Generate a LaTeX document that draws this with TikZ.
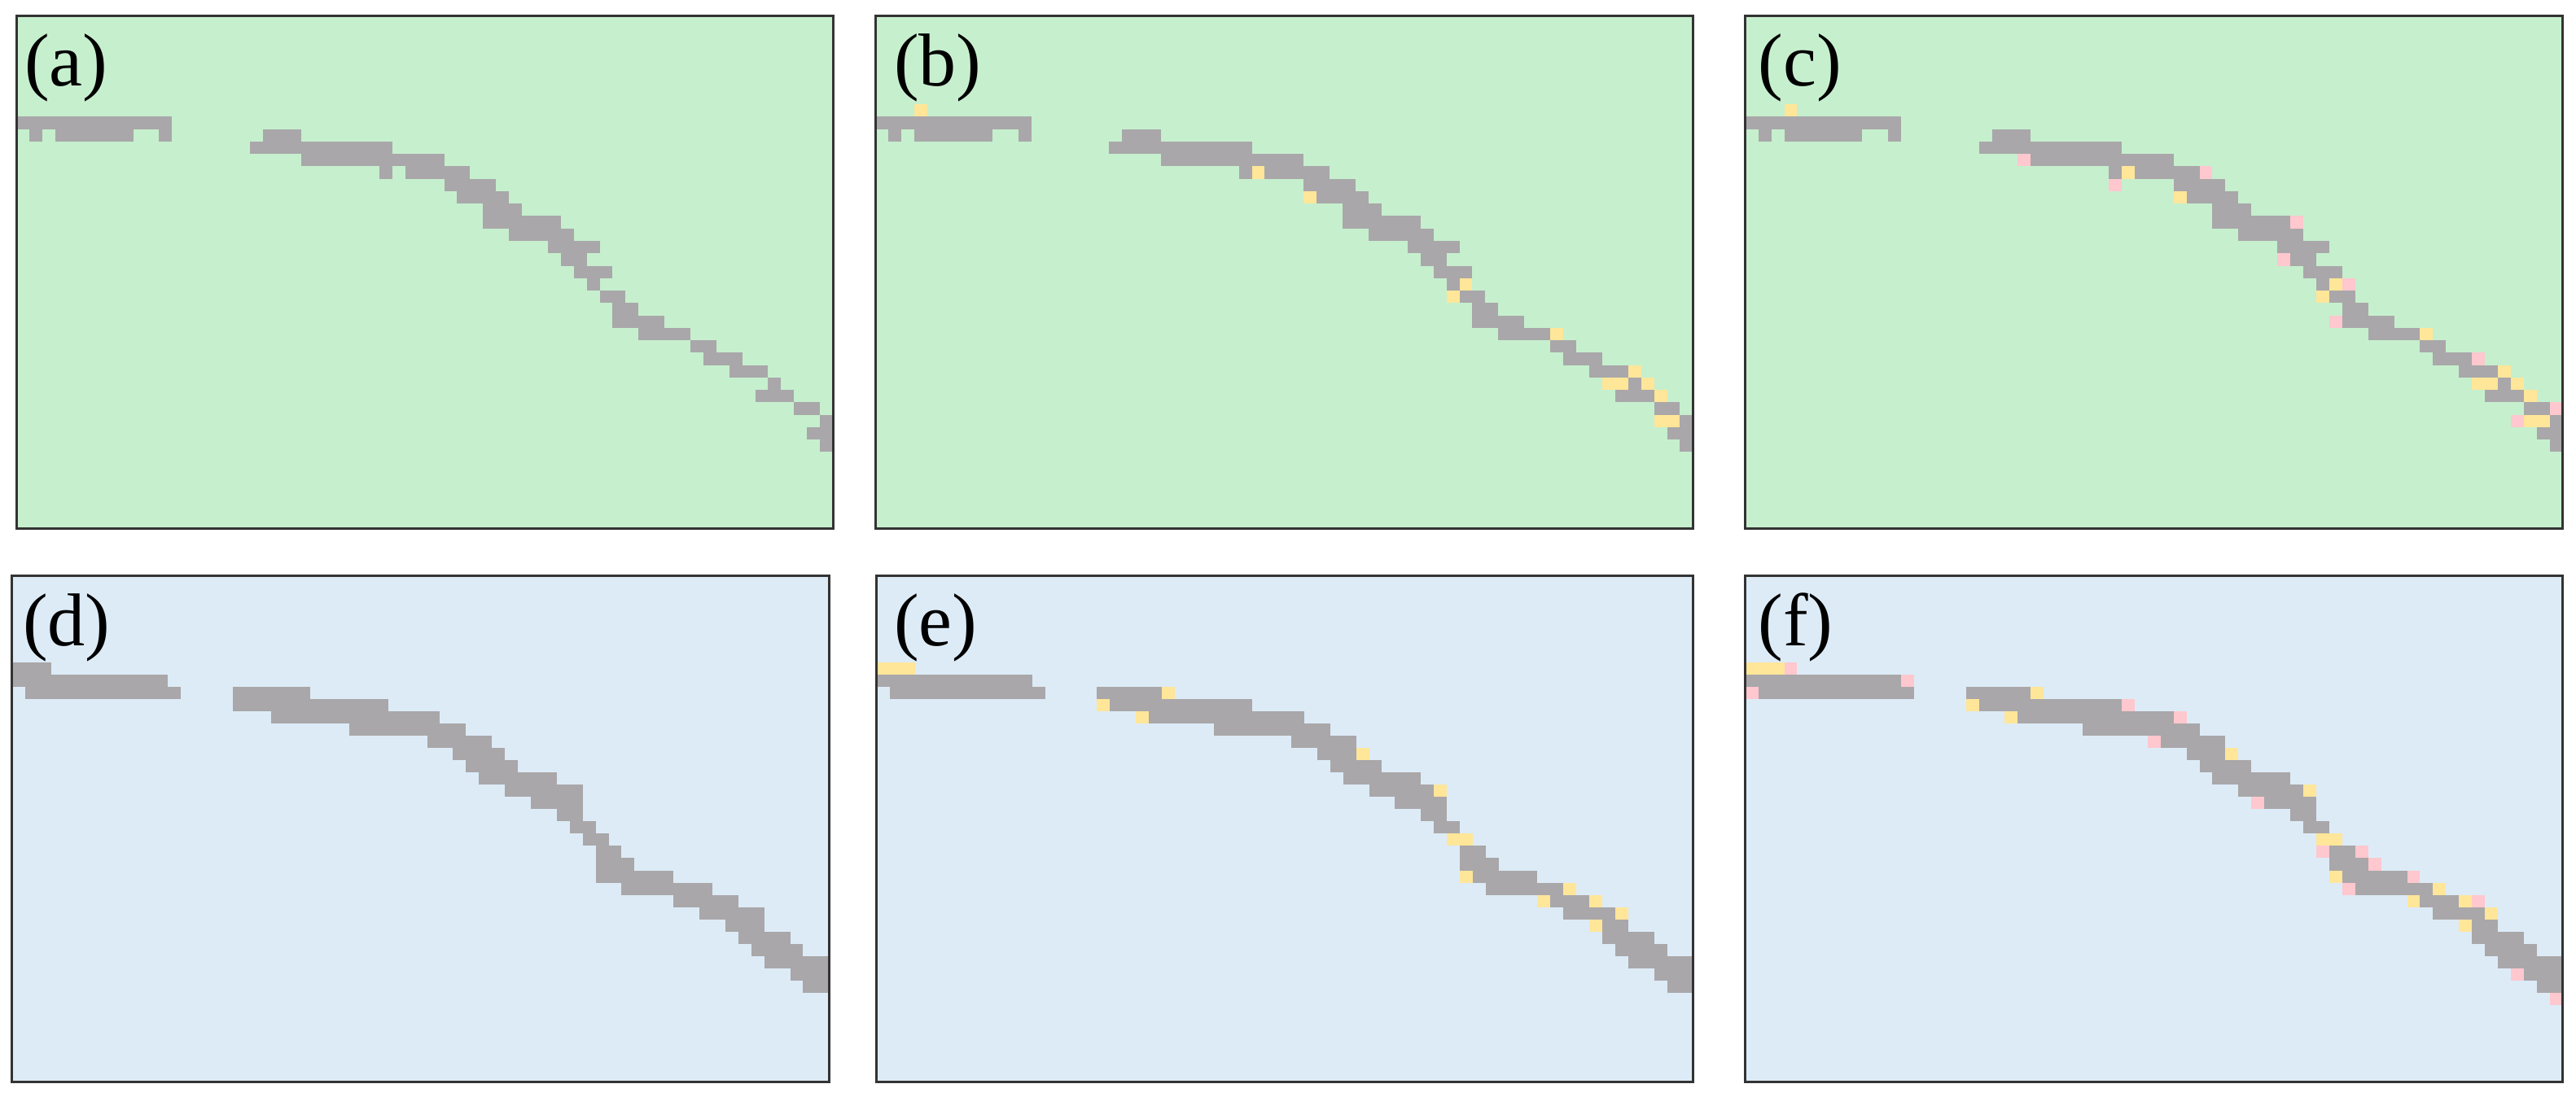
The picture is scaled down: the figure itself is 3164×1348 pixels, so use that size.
\documentclass[tikz,border=0pt]{standalone}
\usepackage{fontspec}
\setmainfont{Liberation Serif}
\definecolor{bggreen}{HTML}{C6EFCE}
\definecolor{bgblue}{HTML}{DDEBF7}
\definecolor{cgray}{HTML}{A9A7A9}
\definecolor{cyel}{HTML}{FFE699}
\definecolor{cpink}{HTML}{FFC7CE}
\definecolor{frame}{HTML}{333333}
\def\baseA{8/0/11, 9/1/1, 9/3/8, 9/11/11, 9/19/21, 10/18/28, 11/22/32, 12/28/28, 12/30/34, 13/33/36, 14/34/37, 15/36/38, 16/36/41, 17/38/42, 18/41/44, 19/42/43, 20/43/45, 21/44/44, 22/45/46, 23/46/47, 24/46/49, 25/48/51, 26/52/53, 27/53/55, 28/55/57, 29/58/58, 30/57/59, 31/60/61, 32/62/62, 33/61/62, 34/62/62}
\def\yelA{7/3, 12/29, 14/33, 21/45, 22/44, 25/52, 28/58, 29/56, 29/57, 29/59, 30/60, 32/60, 32/61}
\def\pinkA{11/21, 13/28, 12/35, 16/42, 19/41, 21/46, 24/45, 27/56, 31/62, 32/59}
\def\baseB{7/0/2, 8/0/11, 9/1/12, 9/17/22, 10/17/28, 11/20/32, 12/26/34, 13/32/36, 14/34/37, 15/35/38, 16/36/41, 17/38/43, 18/40/43, 19/42/43, 20/43/44, 21/44/45, 22/45/46, 23/45/47, 24/45/50, 25/47/53, 26/51/55, 27/53/57, 28/55/57, 29/56/59, 30/57/60, 31/58/62, 32/60/62, 33/61/62}
\def\yelB{7/0, 7/1, 7/2, 9/22, 10/17, 11/20, 14/37, 17/43, 21/44, 21/45, 24/45, 25/53, 26/51, 26/55, 27/57, 28/55}
\def\pinkB{7/3, 8/12, 9/0, 10/29, 11/33, 13/31, 18/39, 22/44, 22/47, 23/48, 24/51, 25/46, 26/56, 32/59, 34/62}
\tikzset{
  panelbg/.style={fill=#1},
  panelframe/.style={draw=frame, line width=3pt},
  graycell/.style={fill=cgray},
  yelcell/.style={fill=cyel},
  pinkcell/.style={fill=cpink},
  paneltag/.style={anchor=base west, inner sep=0pt, font=\fontsize{92}{110}\selectfont}
}
\newcommand{\runs}[2]{\foreach \r/\a/\b in #1 {\fill[#2] (\a,\r) rectangle ({\b+1},{\r+1});}}
\newcommand{\cells}[2]{\foreach \r/\a in #1 {\fill[#2] (\a,\r) rectangle ({\a+1},{\r+1});}}
\begin{document}
\begin{tikzpicture}[x=1pt,y=-1pt]
\useasboundingbox[fill=white] (0,0) rectangle (3164,1348);
% (a)
\fill[panelbg=bggreen] (20.3,19.5) rectangle (1023,649.5);
\begin{scope}[shift={(20.3pt,-21.5pt)}, x=15.916pt, y=-15.25pt]
\runs{\baseA}{graycell}
\end{scope}
\draw[panelframe] (20.3,19.5) rectangle (1023,649.5);
\node[paneltag] (la) at (29.9,105.3) {(a)};
% (b)
\fill[panelbg=bggreen] (1075.3,19.5) rectangle (2079.4,649.5);
\begin{scope}[shift={(1075.3pt,-21.5pt)}, x=15.938pt, y=-15.25pt]
\runs{\baseA}{graycell}
\cells{\yelA}{yelcell}
\end{scope}
\draw[panelframe] (1075.3,19.5) rectangle (2079.4,649.5);
\node[paneltag] (lb) at (1097.9,105.3) {(b)};
% (c)
\fill[panelbg=bggreen] (2143.7,19.5) rectangle (3147.7,649.5);
\begin{scope}[shift={(2143.7pt,-21.5pt)}, x=15.937pt, y=-15.25pt]
\runs{\baseA}{graycell}
\cells{\yelA}{yelcell}
\cells{\pinkA}{pinkcell}
\end{scope}
\draw[panelframe] (2143.7,19.5) rectangle (3147.7,649.5);
\node[paneltag] (lc) at (2159.5,105.3) {(c)};
% (d)
\fill[panelbg=bgblue] (14.9,707.6) rectangle (1018.3,1329.2);
\begin{scope}[shift={(14.9pt,-708.3pt)}, x=15.927pt, y=-15.05pt]
\runs{\baseB}{graycell}
\end{scope}
\draw[panelframe] (14.9,707.6) rectangle (1018.3,1329.2);
\node[paneltag] (ld) at (28.1,793.4) {(d)};
% (e)
\fill[panelbg=bgblue] (1076.7,707.6) rectangle (2079.4,1329.2);
\begin{scope}[shift={(1076.7pt,-708.3pt)}, x=15.916pt, y=-15.05pt]
\runs{\baseB}{graycell}
\cells{\yelB}{yelcell}
\end{scope}
\draw[panelframe] (1076.7,707.6) rectangle (2079.4,1329.2);
\node[paneltag] (le) at (1098,793.4) {(e)};
% (f)
\fill[panelbg=bgblue] (2143.7,707.6) rectangle (3147.7,1329.2);
\begin{scope}[shift={(2143.7pt,-708.3pt)}, x=15.937pt, y=-15.05pt]
\runs{\baseB}{graycell}
\cells{\yelB}{yelcell}
\cells{\pinkB}{pinkcell}
\end{scope}
\draw[panelframe] (2143.7,707.6) rectangle (3147.7,1329.2);
\node[paneltag] (lf) at (2159.5,793.4) {(f)};
\end{tikzpicture}
\end{document}
